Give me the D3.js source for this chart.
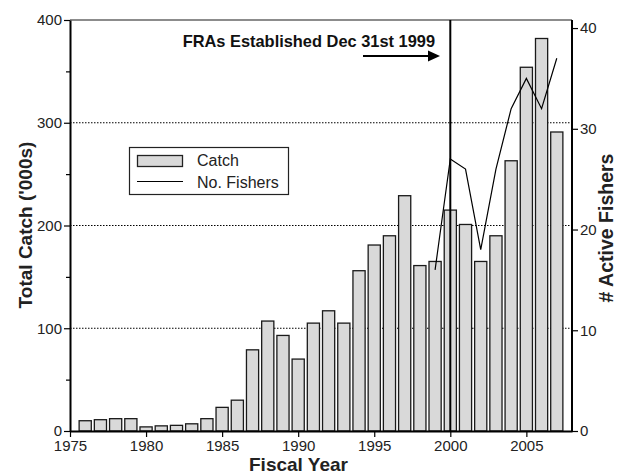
<!DOCTYPE html>
<html><head><meta charset="utf-8">
<script src="https://cdn.jsdelivr.net/npm/d3@7"></script>
<style>body{margin:0;background:#fff}text{font-family:"Liberation Sans",Arial,sans-serif}</style>
</head><body><svg id="c" width="622" height="476"></svg>
<script>
const years = [1976,1977,1978,1979,1980,1981,1982,1983,1984,1985,1986,1987,1988,1989,1990,1991,1992,1993,1994,1995,1996,1997,1998,1999,2000,2001,2002,2003,2004,2005,2006,2007];
const catchVals = [10,11,12,12,4,5,5.5,7,12,23,30,79,107,93,70,105,117,105,156,181,190,229,161,165,215,201,165,190,263,354,382,291];
const fisherYears = [1999,2000,2001,2002,2003,2004,2005,2006,2007];
const fisherVals = [16,27,26,18,26,32,35,32,37];
const leftTicks = [0,100,200,300,400];
const leftMinor = [50,150,250,350];
const rightTicks = [0,10,20,30,40];
const xTicks = [1975,1980,1985,1990,1995,2000,2005];
const gridVals = [100,200,300];

const svg = d3.select('#c');
const L=70, R=572, T=20, B=431;
const x = d3.scaleLinear().domain([1975,2008]).range([L,R]);
const y = d3.scaleLinear().domain([0,400]).range([B,T]);
const y2 = d3.scaleLinear().domain([0,40.8]).range([B,T]);
const bw = (x(1976)-x(1975))*0.8;

// grid
svg.append('g').selectAll('line').data(gridVals).join('line')
  .attr('x1',L).attr('x2',R).attr('y1',d=>y(d)).attr('y2',d=>y(d))
  .attr('stroke','#000').attr('stroke-width',1).attr('stroke-dasharray','1.5,1.5');
// top frame
svg.append('line').attr('x1',L).attr('x2',R).attr('y1',T).attr('y2',T).attr('stroke','#666').attr('stroke-width',1.5);

// bars
svg.append('g').selectAll('rect').data(years).join('rect')
  .attr('x',(d)=>x(d)-bw/2).attr('width',bw)
  .attr('y',(d,i)=>y(catchVals[i])).attr('height',(d,i)=>B-y(catchVals[i]))
  .attr('fill','#d9d9d9').attr('stroke','#1a1a1a').attr('stroke-width',1.3);

// line
svg.append('path').datum(fisherYears.map((d,i)=>[d,fisherVals[i]]))
  .attr('d',d3.line().x(d=>x(d[0])).y(d=>y2(d[1])))
  .attr('fill','none').attr('stroke','#000').attr('stroke-width',1.2);

// vertical line
svg.append('line').attr('x1',x(2000)).attr('x2',x(2000)).attr('y1',T).attr('y2',B).attr('stroke','#000').attr('stroke-width',2);

// axes
const ax = g=>{g.selectAll('.domain').attr('stroke-width',2); g.selectAll('.tick line').attr('stroke-width',1.2); g.selectAll('text').attr('font-size',15).attr('fill','#222').style('font-family','"Liberation Sans",Arial,sans-serif');};
svg.append('g').attr('transform',`translate(${L},0)`).call(d3.axisLeft(y).tickValues(leftTicks).tickSize(6).tickSizeOuter(0).tickPadding(2)).call(ax);
svg.append('g').attr('transform',`translate(${L},0)`).call(d3.axisLeft(y).tickValues(leftMinor).tickSize(4).tickFormat('')).call(g=>g.select('.domain').remove()).call(ax);
svg.append('g').attr('transform',`translate(${R},0)`).call(d3.axisRight(y2).tickValues(rightTicks).tickSize(6).tickSizeOuter(0).tickPadding(2)).call(ax)
  .call(g=>g.select('.domain').attr('d',`M0,${T}V${B}`));
svg.append('g').attr('transform',`translate(0,${B})`).call(d3.axisBottom(x).tickValues(xTicks).tickFormat(d3.format('d')).tickSize(6).tickSizeOuter(0).tickPadding(3)).call(ax);

// titles
svg.append('text').attr('transform',`translate(32,225) rotate(-90)`).attr('text-anchor','middle')
  .attr('font-size',19).attr('font-weight','bold').attr('fill','#222').text("Total Catch ('000s)");
svg.append('text').attr('x',298.5).attr('y',471).attr('text-anchor','middle')
  .attr('font-size',19).attr('font-weight','bold').attr('fill','#222').text('Fiscal Year');
svg.append('text').attr('transform',`translate(612.5,228) rotate(-90)`).attr('text-anchor','middle')
  .attr('font-size',19.5).attr('font-weight','bold').attr('fill','#222').text('# Active Fishers');

// annotation
svg.append('text').attr('x',435).attr('y',47).attr('text-anchor','end')
  .attr('font-size',16.4).attr('font-weight','bold').attr('fill','#111').text('FRAs Established Dec 31st 1999');
svg.append('line').attr('x1',363).attr('x2',430).attr('y1',56).attr('y2',56).attr('stroke','#000').attr('stroke-width',2);
svg.append('path').attr('d','M428,50.5L440,56L428,61.5Z').attr('fill','#000');

// legend
const lg = svg.append('g');
lg.append('rect').attr('x',129.5).attr('y',147.5).attr('width',159).attr('height',47).attr('fill','#fff').attr('stroke','#222').attr('stroke-width',1.2);
lg.append('rect').attr('x',137.5).attr('y',155.5).attr('width',45).attr('height',11).attr('fill','#d9d9d9').attr('stroke','#222').attr('stroke-width',1.3);
lg.append('line').attr('x1',137).attr('x2',183).attr('y1',181.5).attr('y2',181.5).attr('stroke','#000').attr('stroke-width',1.2);
lg.append('text').attr('x',197).attr('y',166).attr('font-size',16).attr('fill','#222').text('Catch');
lg.append('text').attr('x',197).attr('y',187.5).attr('font-size',16).attr('fill','#222').text('No. Fishers');
</script></body></html>
